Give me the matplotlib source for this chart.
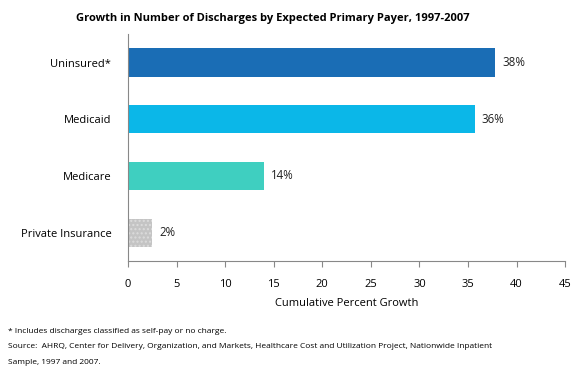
import matplotlib.pyplot as plt
import numpy as np

# data
payers = ["Uninsured*", "Medicaid", "Medicare", "Private Insurance"]
growth = [37.8, 35.7, 14.0, 2.5]
labels = ["38%", "36%", "14%", "2%"]
colors = ["#1a6db5", "#0bb7e8", "#3fcfc0", "#c4c4c4"]

plt.rcParams['font.family'] = ['Open Sans', 'DejaVu Sans']

fig = plt.figure(figsize=(5.82, 3.8), dpi=100)
ax = fig.add_axes([0.22, 0.313, 0.751, 0.597])

y = np.arange(len(payers))
bars = ax.barh(y, growth, height=0.5, color=colors)
# dotted look for private insurance
bars[3].set_hatch('....')
bars[3].set_edgecolor('#dcdcdc')
bars[3].set_linewidth(0)

for b, lab in zip(bars, labels):
    ax.text(b.get_width() + 0.7, b.get_y() + b.get_height() / 2, lab,
            va='center', ha='left', fontsize=8.3, color='#222222')

ax.set_ylim(3.5, -0.5)
ax.set_xlim(0, 45)
ax.set_xticks(np.arange(0, 46, 5))
ax.set_yticks(y)
ax.set_yticklabels(payers, fontsize=8)
ax.tick_params(axis='y', length=0, pad=12)
ax.tick_params(axis='x', length=4, color='#888888', labelsize=8, pad=9)
for s in ['top', 'right']:
    ax.spines[s].set_visible(False)
for s in ['left', 'bottom']:
    ax.spines[s].set_color('#888888')
ax.set_xlabel("Cumulative Percent Growth", fontsize=8, labelpad=6)

fig.text(0.469, 0.952, "Growth in Number of Discharges by Expected Primary Payer, 1997-2007",
         ha='center', va='center', fontsize=8, fontweight='bold')

fig.text(0.014, 0.127, "* Includes discharges classified as self-pay or no charge.",
         fontsize=6.0, va='center')
fig.text(0.014, 0.087, "Source:  AHRQ, Center for Delivery, Organization, and Markets, Healthcare Cost and Utilization Project, Nationwide Inpatient",
         fontsize=6.0, va='center')
fig.text(0.014, 0.047, "Sample, 1997 and 2007.", fontsize=6.0, va='center')

fig.savefig("out.png", dpi=100)
